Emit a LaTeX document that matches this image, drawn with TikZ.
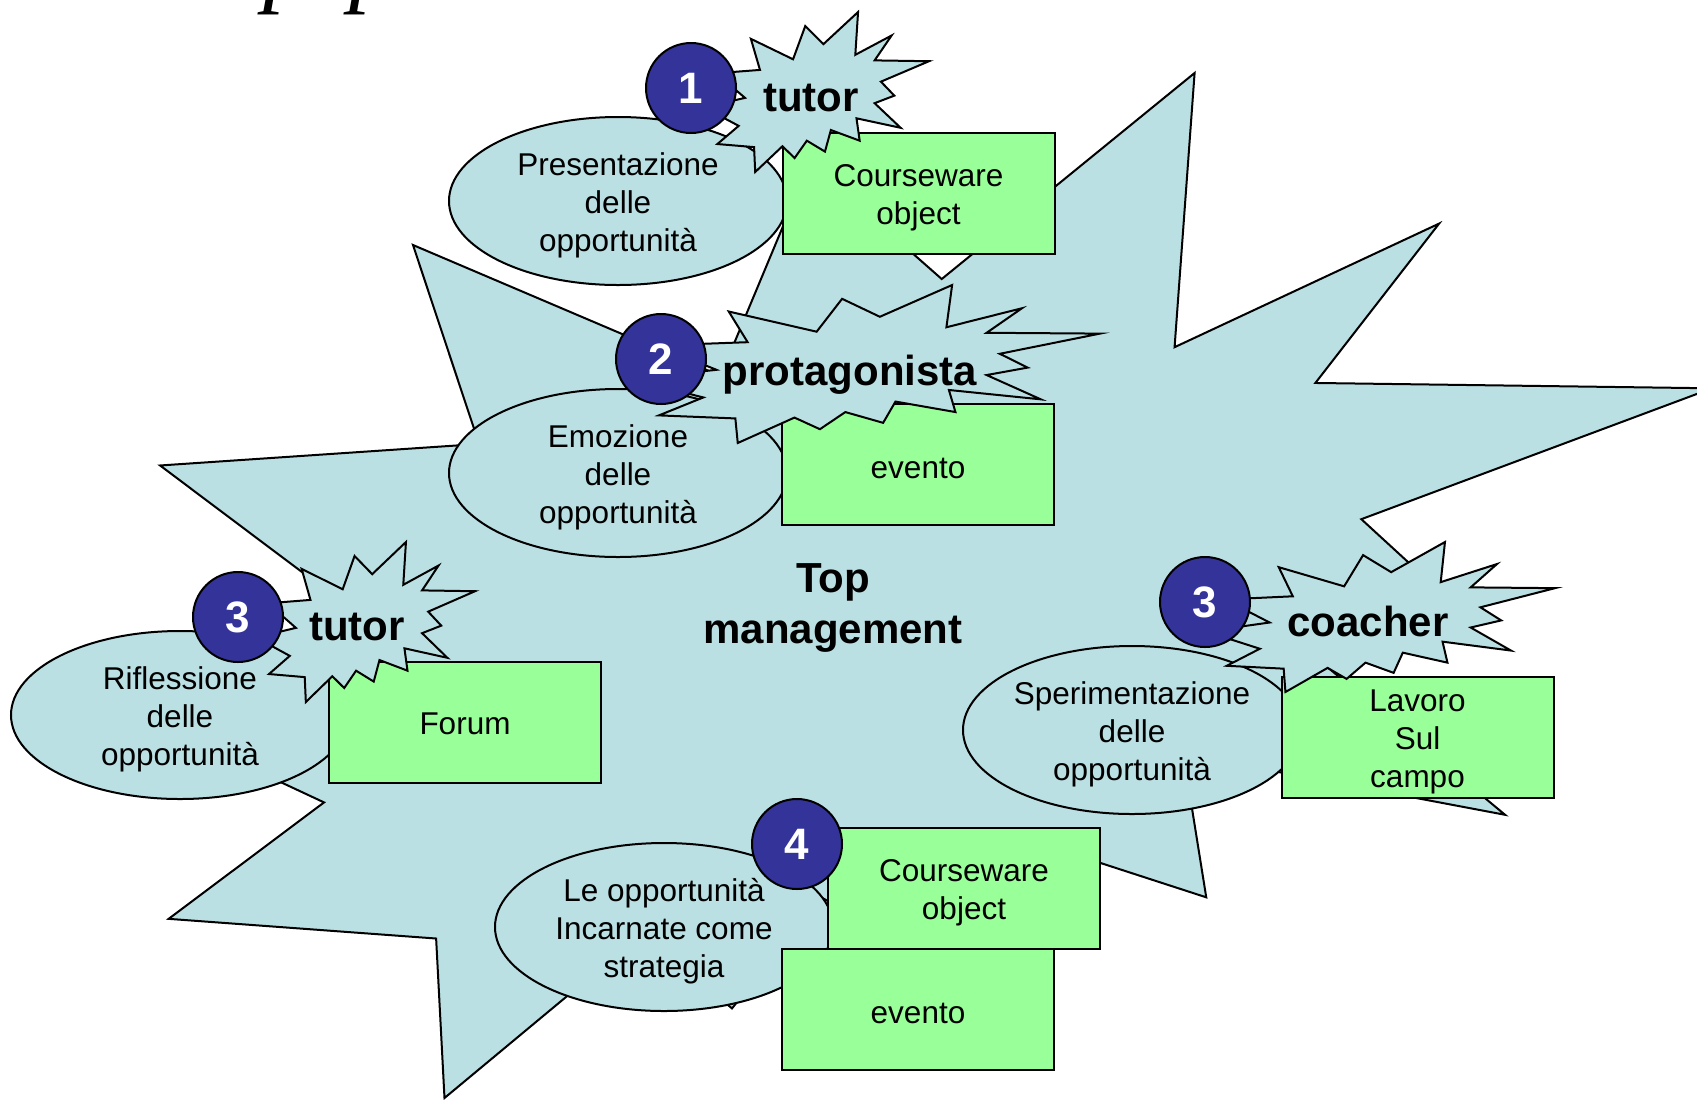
\documentclass[tikz,border=0pt]{standalone}
\usepackage{fontspec}
\setmainfont{Liberation Sans}
\newfontfamily\titleserif{Liberation Serif}
\usetikzlibrary{shapes.geometric}

\definecolor{seafoam}{RGB}{187,224,227}
\definecolor{mint}{RGB}{153,255,153}
\definecolor{badgeblue}{RGB}{51,51,153}

\newcommand{\plainsize}{\fontsize{15.75}{19}\selectfont}
\newcommand{\rolesize}{\fontsize{21}{25.5}\selectfont\bfseries}
\newcommand{\numsize}{\fontsize{22}{26}\selectfont\bfseries}

\tikzset{
  burst/.style={draw, fill=seafoam, line width=1pt, line join=miter},
  % explosion outline, drawn in a 100 x 100 box
  explosion/.pic={
    \path[burst] (53.06,20.10) -- (68.47,0) -- (67.25,26.75) -- (83.37,14.69)
      -- (75.83,30.24) -- (100,30.76) -- (78.63,43.53) -- (84.58,52.27)
      -- (75.83,56.99) -- (87.39,72.37) -- (67.78,66.44) -- (69.18,80.42)
      -- (56.39,73.77) -- (53.76,87.23) -- (45.70,80.42) -- (40.28,91.26)
      -- (34.85,83.91) -- (22.76,100) -- (22.25,84.44) -- (5.95,82.52)
      -- (15.42,71.16) -- (0,59.62) -- (18.22,53.67) -- (5.43,38.29)
      -- (24.87,36.19) -- (20.84,16.78) -- (39.58,29.55) -- (45.01,8.74) -- cycle;
  },
  % text sits a little below the middle of its shape
  inlabel/.style={align=center, font=\plainsize, inner sep=0pt, yshift=-2.2pt},
  bubble/.style={ellipse, draw, fill=seafoam, line width=1pt, minimum width=169pt,
    minimum height=84pt, inner sep=0pt, label={[inlabel]center:#1}},
  cardshape/.style={rectangle, draw, fill=mint, line width=1pt, minimum width=136pt,
    minimum height=60.5pt, inner sep=0pt},
  card/.style={cardshape, label={[inlabel]center:#1}},
  badge/.style={circle, draw, fill=badgeblue, line width=1pt, minimum size=45pt,
    inner sep=0pt, text=white, font=\numsize},
  role/.style={font=\rolesize, inner sep=0pt},
  titlebit/.style={font=\titleserif\itshape\fontsize{48}{52}\selectfont,
    anchor=base west, inner sep=0pt}
}

\begin{document}
\begin{tikzpicture}[x=0.5pt, y=-0.5pt]
    \useasboundingbox (0,0) rectangle (1697,1099);

    % What is left of the slide title
    \node[titlebit] (titlep1) at (263,-6) {p};
    \node[titlebit] (titlep2) at (349,-6) {p};

    % Big explosion in the background
    \pic[shift={(71,73)}, xscale=16.41, yscale=10.25] {explosion};
    \node[role, align=center] (topmgmt) at (833,608) {Top\\management};

    % Step 1
    \node[bubble={Presentazione\\delle\\opportunità}] (present) at (618,201) {};
    \node[card={Courseware\\object}] (course1) at (918.5,193) {};
    \pic[shift={(704,12)}, xscale=2.25, yscale=1.60] {explosion};
    \node[role, anchor=base] (tutor1) at (811,111) {tutor};
    \node[badge] (one) at (691,88) {1};

    % Step 2
    \node[bubble={Emozione\\delle\\opportunità}] (emoz) at (618,473) {};
    \node[card={evento}] (event1) at (918,464.5) {};
    \pic[shift={(631,285)}, xscale=4.69, yscale=1.58] {explosion};
    \node[role, anchor=base] (protag) at (850,385) {protagonista};
    \node[badge] (two) at (661,359) {2};

    % Step 3, forum
    \node[bubble={Riflessione\\delle\\opportunità}] (rifl) at (180,715) {};
    \node[cardshape, label={[inlabel, yshift=1.6pt]center:Forum}] (forum) at (465,722.5) {};
    \pic[shift={(256,542)}, xscale=2.19, yscale=1.60] {explosion};
    \node[role, anchor=base] (tutor3) at (357,640) {tutor};
    \node[badge] (three) at (238,617) {3};

    % Step 3, on the field
    \node[bubble={Sperimentazione\\delle\\opportunità}] (sperim) at (1132,730) {};
    \node[card={Lavoro\\Sul\\campo}] (lavoro) at (1417.5,737.5) {};
    \pic[shift={(1206,542)}, xscale=3.49, yscale=1.50] {explosion};
    \node[role, anchor=base] (coach) at (1368,636) {coacher};
    \node[badge] (threeb) at (1205,602) {3};

    % Step 4
    \node[bubble={Le opportunità\\Incarnate come\\strategia}] (strat) at (664,927) {};
    \node[card={Courseware\\object}] (course2) at (964,888.5) {};
    \node[card={evento}] (event2) at (918,1009.5) {};
    \node[badge] (four) at (797,844) {4};
\end{tikzpicture}
\end{document}
